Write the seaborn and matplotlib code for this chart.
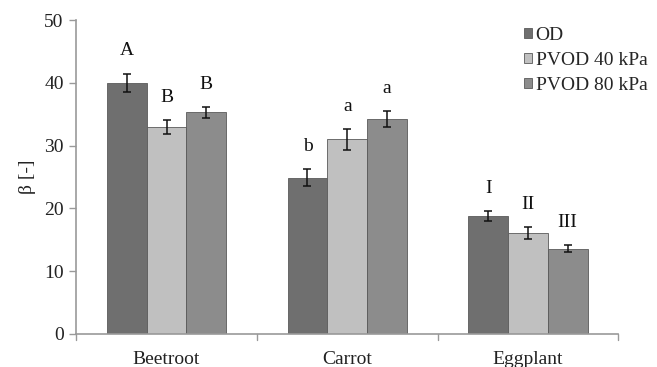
import matplotlib
matplotlib.use("Agg")
import matplotlib.pyplot as plt
from matplotlib.font_manager import FontProperties
import seaborn as sns
import pandas as pd
import numpy as np

categories = ["Beetroot", "Carrot", "Eggplant"]
treatments = ["OD", "PVOD 40 kPa", "PVOD 80 kPa"]
od_values = [40.0, 24.9, 18.8]
pvod40_values = [33.0, 31.0, 16.1]
pvod80_values = [35.3, 34.2, 13.6]
od_err = [1.5, 1.4, 0.8]
pvod40_err = [1.1, 1.7, 1.0]
pvod80_err = [0.9, 1.3, 0.5]
od_letters = ["A", "b", "I"]
pvod40_letters = ["B", "a", "II"]
pvod80_letters = ["B", "a", "III"]

colors = ["#6f6f6f", "#c0c0c0", "#8c8c8c"]

rows = []
for t, vals, errs, lets in zip(treatments,
                               [od_values, pvod40_values, pvod80_values],
                               [od_err, pvod40_err, pvod80_err],
                               [od_letters, pvod40_letters, pvod80_letters]):
    for c, v, e, l in zip(categories, vals, errs, lets):
        rows.append({"Category": c, "Treatment": t, "beta": v, "err": e, "letter": l})
df = pd.DataFrame(rows)

sns.set_theme(style="white")
SERIF = ["Liberation Serif", "DejaVu Serif"]
plt.rcParams["font.family"] = SERIF

fig = plt.figure(figsize=(6.57, 3.67), dpi=100)
ax = fig.add_axes([0.116, 0.09, 0.825, 0.855])

sns.barplot(data=df, x="Category", y="beta", hue="Treatment", order=categories,
            hue_order=treatments, palette=colors, width=0.66, errorbar=None,
            saturation=1, ax=ax, edgecolor="#5a5a5a", linewidth=0.6, legend=True)

# error bars and letters
for i, t in enumerate(treatments):
    cont = ax.containers[i]
    sub = df[df["Treatment"] == t].set_index("Category").loc[categories]
    for bar, (_, r) in zip(cont, sub.iterrows()):
        xc = bar.get_x() + bar.get_width() / 2
        ax.errorbar(xc, r["beta"], yerr=r["err"], fmt="none", ecolor="#111111",
                    elinewidth=1.1, capsize=3, capthick=1.1)
        ax.text(xc, r["beta"] + r["err"] + 3.6, r["letter"], ha="center", va="center",
                fontsize=14, color="#111111")

ax.set_ylim(0, 50)
ax.set_xlim(-0.5, 2.5)
ax.set_yticks(range(0, 51, 10))
ax.set_xlabel("")
ax.set_ylabel("β [-]", fontsize=14, color="#222222", labelpad=6)
ax.tick_params(axis="both", labelsize=14, colors="#222222")
ax.tick_params(axis="y", length=5, width=1, color="#999999", left=True, pad=4)
ax.set_xticks([0, 1, 2])
ax.set_xticklabels(categories)
ax.tick_params(axis="x", length=0, pad=12)
for b in [-0.5, 0.5, 1.5, 2.5]:
    ax.plot([b, b], [0, -0.018], transform=ax.get_xaxis_transform(), color="#999999",
            lw=1, clip_on=False)

for s in ["top", "right"]:
    ax.spines[s].set_visible(False)
for s in ["left", "bottom"]:
    ax.spines[s].set_color("#999999")
    ax.spines[s].set_linewidth(1.2)

leg = ax.legend(loc="upper left", bbox_to_anchor=(524 / 657, 1 - 27 / 367),
                bbox_transform=fig.transFigure, frameon=False,
                prop=FontProperties(family="Liberation Serif", size=14),
                handlelength=0.4, handleheight=0.4,
                handletextpad=0.2, labelspacing=0.4, borderaxespad=0, borderpad=0)

fig.savefig("out.png", dpi=100)
